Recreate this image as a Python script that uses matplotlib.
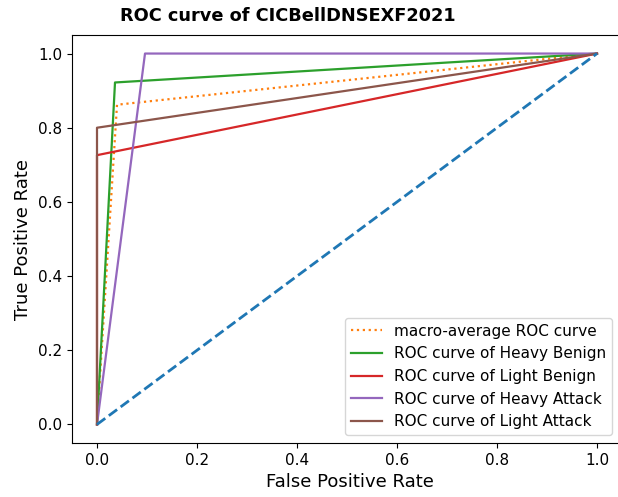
import matplotlib
matplotlib.use("Agg")
import matplotlib.pyplot as plt

# ROC points
macro_fpr = [0.0, 0.04, 1.0]
macro_tpr = [0.0, 0.862, 1.0]

class_names = ["Heavy Benign", "Light Benign", "Heavy Attack", "Light Attack"]
class_fpr = [
    [0.0, 0.036, 1.0],
    [0.0, 0.0, 1.0],
    [0.0, 0.096, 1.0],
    [0.0, 0.0, 1.0],
]
class_tpr = [
    [0.0, 0.922, 1.0],
    [0.0, 0.726, 1.0],
    [0.0, 1.0, 1.0],
    [0.0, 0.80, 1.0],
]
class_colors = ["C2", "C3", "C4", "C5"]

diag = [0.0, 1.0]

fig = plt.figure(figsize=(6.18, 4.97), dpi=100)
# the reference is cropped just inside the right spine
ax = fig.add_axes([72 / 618, 54 / 497, 555 / 618, 408 / 497])

ax.plot(macro_fpr, macro_tpr, color="C1", linestyle=":", lw=1.6,
        label="macro-average ROC curve")
for name, fpr, tpr, col in zip(class_names, class_fpr, class_tpr, class_colors):
    ax.plot(fpr, tpr, color=col, lw=1.6, label=f"ROC curve of {name}")
ax.plot(diag, diag, color="C0", linestyle="--", lw=2)

ax.set_xlim(-0.05, 1.06)
ax.set_ylim(-0.05, 1.05)
ax.tick_params(labelsize=11)
ax.set_xlabel("False Positive Rate", fontsize=13)
ax.set_ylabel("True Positive Rate", fontsize=13)
fig.text(288 / 618, 1 - 16 / 497, "ROC curve of CICBellDNSEXF2021",
         ha="center", va="center", fontsize=12.8, fontweight="bold")
ax.legend(loc="lower right", bbox_to_anchor=(0.987, 0.0), fontsize=11)

fig.savefig("out.png", dpi=100)
